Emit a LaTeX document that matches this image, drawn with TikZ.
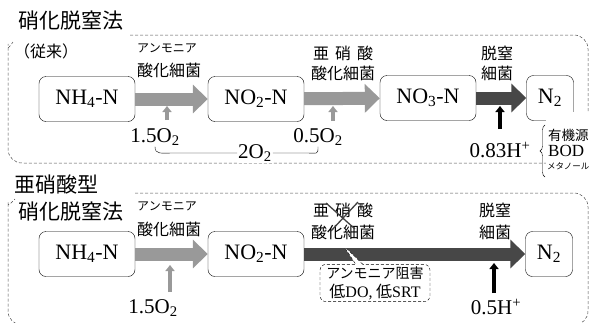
\documentclass[tikz,border=0pt]{standalone}
\usepackage{fontspec}
\setmainfont{Liberation Serif}
\newfontfamily\jp{Noto Sans CJK JP}
\usetikzlibrary{arrows.meta,shapes.callouts,decorations.pathreplacing}

\begin{document}
\begin{tikzpicture}[x=1pt,y=-1pt,
  box/.style={draw,rounded corners=7pt,minimum width=96pt,minimum height=45pt,
    font=\fontsize{22}{24}\selectfont},
  nbox/.style={box,minimum width=47pt},
  frame/.style={densely dashed,black!70,line width=0.5pt,rounded corners=14pt},
  lightarr/.style={line width=13pt,black!40,-{Triangle[length=15pt,width=28pt]}},
  darkarr/.style={line width=13pt,black!72,-{Triangle[length=15pt,width=28pt]}},
  feed/.style={line width=4pt,black!40,-{Triangle[length=6pt,width=9pt]}},
  hfeed/.style={line width=4pt,black,-{Triangle[length=6pt,width=9pt]}},
  bug/.style={font=\jp\fontsize{16}{17}\selectfont,inner sep=0pt},
  kana/.style={font=\jp\fontsize{12}{13}\selectfont,inner sep=0pt},
  head/.style={font=\jp\fontsize{21}{23}\selectfont,inner sep=0pt},
  chem/.style={font=\fontsize{21}{23}\selectfont,inner sep=1pt}]
  \useasboundingbox (0,0) rectangle (592,322);
  \clip (0,0) rectangle (592,322);

  % conventional process
  \node[head] (t1) at (71,21) {硝化脱窒法};
  \node[font=\jp\fontsize{16}{18}\selectfont,inner sep=0pt] (t1b) at (46,51) {（従来）};
  \draw[frame] (130,35) -- (588,35) -- (588,163) -- (8,163) -- (8,58)
    .. controls (8,49) .. (13,42);
  \node[box] (a1) at (87,99) {NH\textsubscript{4}-N};
  \node[box] (a2) at (256,99) {NO\textsubscript{2}-N};
  \node[box] (a3) at (428,98) {NO\textsubscript{3}-N};
  \node[nbox] (a4) at (550,98) {N\textsubscript{2}};
  \draw[lightarr] (a1) -- (a2);
  \draw[lightarr] (a2) -- (a3);
  \draw[darkarr] (a3) -- (a4);
  \node[kana] (k1) at (167,48) {アンモニア};
  \node[bug] (b1) at (169,70) {酸化細菌};
  \node[bug] (k2) at (343,53) {亜\hspace{6pt}硝\hspace{6pt}酸};
  \node[bug] (b2) at (343,73) {酸化細菌};
  \node[bug] (k3) at (497,53) {脱窒};
  \node[bug] (b3) at (497,73) {細菌};
  \node[chem] (o1) at (155,137) {1.5O\textsubscript{2}};
  \node[chem,fill=white] (o2) at (255,153) {2O\textsubscript{2}};
  \node[chem] (o3) at (318,137) {0.5O\textsubscript{2}};
  \draw (o1.south) .. controls +(0,8) and +(-12,0) .. ([xshift=18]o1.south |- o2.west)
    -- (o2.west);
  \draw (o2.east) -- ([xshift=-12]o3.south |- o2.east)
    .. controls +(12,0) and +(0,8) .. (o3.south);
  \coordinate (f1a) at (167,120);
  \coordinate (f1b) at (167,106);
  \coordinate (f2a) at (333,121);
  \coordinate (f2b) at (333,106);
  \draw[feed] (f1a) -- (f1b);
  \draw[feed] (f2a) -- (f2b);
  \node[chem] (h1) at (500,150) {0.83H\textsuperscript{+}};
  \coordinate (f3a) at (500,129);
  \coordinate (f3b) at (500,106);
  \draw[hfeed] (f3a) -- (f3b);
  \fill[white] (546,112) rectangle (592,182);
  \draw[decorate,decoration={brace,amplitude=5pt}] (545,177) -- (545,125);
  \node[bug,font=\jp\fontsize{13.5}{15}\selectfont,anchor=west] (s1) at (548,135) {有機源};
  \node[chem,font=\fontsize{17}{18}\selectfont,anchor=west] (s2) at (547,151) {BOD};
  \node[kana,font=\jp\fontsize{8.5}{10}\selectfont,anchor=west] (s3) at (547,166) {メタノール};

  % nitrite-type process
  \node[head] (t2) at (57,184) {亜硝酸型};
  \node[head] (t3) at (71,212) {硝化脱窒法};
  \draw[frame] (135,193) -- (588,193) -- (588,325) -- (8,325) -- (8,216)
    .. controls (8,206) .. (15,199);
  \node[box] (c1) at (87,254) {NH\textsubscript{4}-N};
  \node[box] (c2) at (256,254) {NO\textsubscript{2}-N};
  \node[nbox] (c3) at (549,254) {N\textsubscript{2}};
  \draw[lightarr] (c1) -- (c2);
  \draw[darkarr] (c2) -- (c3);
  \node[kana] (k4) at (167,206) {アンモニア};
  \node[bug] (b4) at (169,229) {酸化細菌};
  \node[bug] (k5) at (343,210) {亜\hspace{6pt}硝\hspace{6pt}酸};
  \node[bug] (b5) at (343,232) {酸化細菌};
  \node[bug] (k6) at (495,210) {脱窒};
  \node[bug] (b6) at (495,232) {細菌};
  \draw[black!75,line width=1.3pt] (326,203) -- (355,229);
  \draw[black!75,line width=1.3pt] (331,231) -- (358,202);
  \coordinate (ptr) at (343,245);
  \node[rectangle callout,callout absolute pointer=(ptr),draw,densely dashed,fill=white,
    rounded corners=6pt,align=center,inner sep=2pt,minimum width=110pt,
    font=\jp\fontsize{14}{19}\selectfont] (inh) at (375,283)
    {アンモニア阻害\\{\fontsize{16}{19}\selectfont 低{\rmfamily DO,} 低{\rmfamily SRT}}};
  \coordinate (f4a) at (170,292);
  \coordinate (f4b) at (170,265);
  \draw[feed] (f4a) -- (f4b);
  \node[chem] (o4) at (153,308) {1.5O\textsubscript{2}};
  \coordinate (f5a) at (494,293);
  \coordinate (f5b) at (494,263);
  \draw[hfeed] (f5a) -- (f5b);
  \node[chem] (h2) at (496,307) {0.5H\textsuperscript{+}};
\end{tikzpicture}
\end{document}
